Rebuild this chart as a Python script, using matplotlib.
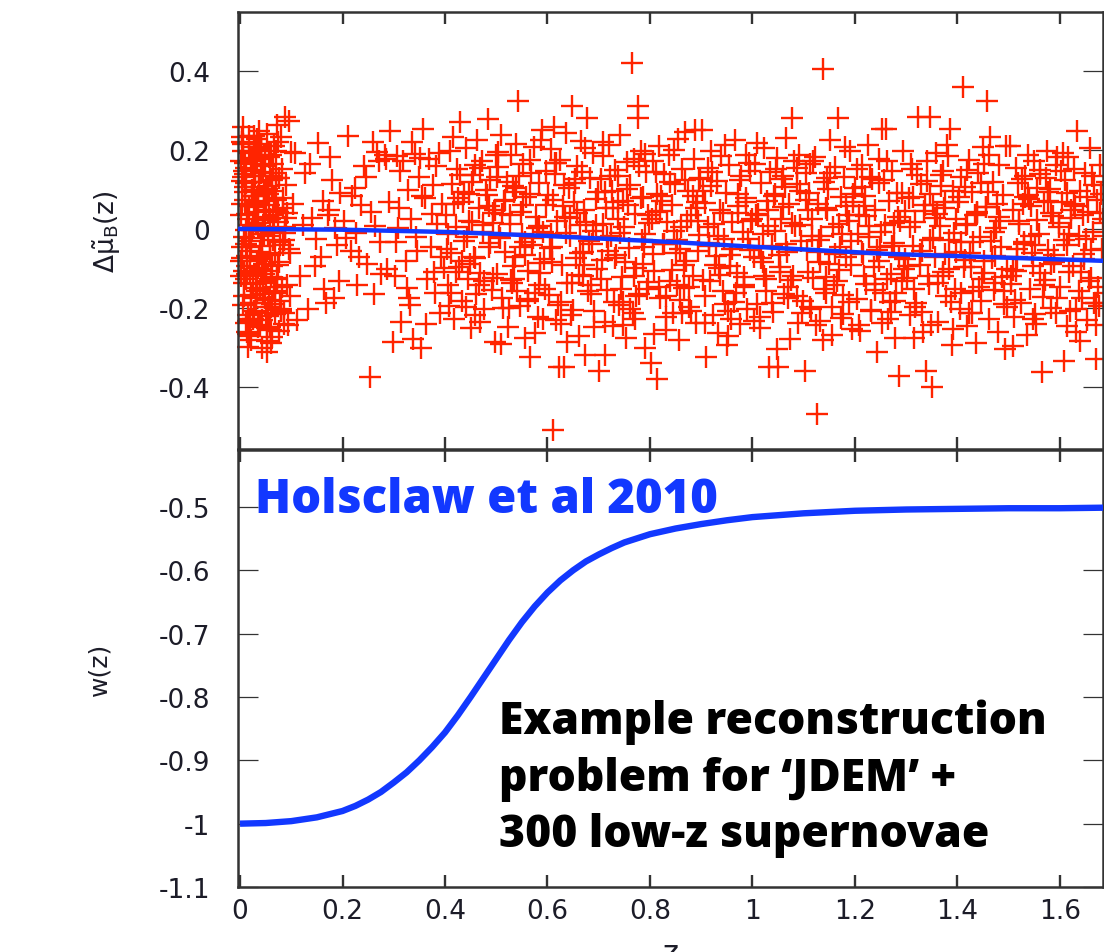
import matplotlib
matplotlib.use("Agg")
import matplotlib.pyplot as plt

# --- low-z sample (z < 0.1) ---
z_low = [0.012, 0.034, 0.005, 0.047, 0.021, 0.063, 0.018, 0.039, 0.071, 0.027,
         0.044, 0.009, 0.056, 0.015, 0.083, 0.030, 0.002, 0.066, 0.024, 0.051,
         0.038, 0.007, 0.059, 0.028, 0.075, 0.013, 0.046, 0.091, 0.020, 0.035,
         0.053, 0.017, 0.004, 0.068, 0.041, 0.026, 0.079, 0.010, 0.057, 0.032,
         0.014, 0.062, 0.036, 0.087, 0.003, 0.049, 0.022, 0.070, 0.042, 0.008,
         0.029, 0.055, 0.011, 0.076, 0.040, 0.019, 0.064, 0.033, 0.095, 0.048,
         0.006, 0.037, 0.072, 0.025, 0.058, 0.016, 0.045, 0.081, 0.001, 0.031,
         0.060, 0.023, 0.043, 0.010, 0.067, 0.035, 0.052, 0.085, 0.019, 0.074,
         0.039, 0.004, 0.027, 0.061, 0.050, 0.013, 0.078, 0.033, 0.089, 0.046,
         0.018, 0.069, 0.041, 0.007, 0.054, 0.030, 0.084, 0.015, 0.062, 0.036,
         0.049, 0.021, 0.073, 0.002, 0.058, 0.032, 0.011, 0.066, 0.043, 0.092,
         0.026, 0.051, 0.008, 0.037, 0.080, 0.017, 0.063, 0.044, 0.005, 0.071,
         0.034, 0.060, 0.014, 0.047, 0.024, 0.087, 0.039, 0.003, 0.055, 0.028,
         0.065, 0.009, 0.042, 0.077, 0.020, 0.053, 0.031, 0.012, 0.069, 0.046,
         0.023, 0.057, 0.006, 0.040, 0.082, 0.015, 0.048, 0.070, 0.035, 0.097,
         0.052, 0.029, 0.074, 0.011, 0.045, 0.061, 0.001, 0.037, 0.085, 0.019,
         0.041, 0.016, 0.068, 0.027, 0.054, 0.008, 0.078, 0.032, 0.059, 0.044,
         0.013, 0.036, 0.090, 0.050, 0.022, 0.066, 0.004, 0.043, 0.028, 0.075,
         0.058, 0.025, 0.047, 0.010, 0.071, 0.038, 0.063, 0.017, 0.083, 0.033,
         0.003, 0.050, 0.030, 0.086, 0.021, 0.064, 0.041, 0.076, 0.012, 0.055,
         0.087, 0.095, 0.052, 0.072, 0.099, 0.061, 0.079, 0.093, 0.006, 0.098]
dmu_low = [0.153, -0.082, 0.214, 0.031, -0.187, 0.096, -0.024, -0.243, 0.128, 0.057,
           -0.136, 0.072, 0.181, -0.265, -0.041, 0.207, -0.118, -0.009, 0.163, -0.212,
           0.118, -0.171, -0.063, 0.236, 0.044, -0.095, 0.089, -0.142, -0.228, 0.014,
           -0.284, 0.192, -0.047, -0.156, 0.141, 0.008, -0.203, 0.106, 0.061, -0.118,
           -0.069, 0.125, -0.249, -0.011, 0.221, -0.176, 0.179, 0.073, -0.102, -0.137,
           0.043, -0.221, 0.115, -0.085, 0.198, -0.031, 0.165, -0.158, -0.052, 0.022,
           -0.193, 0.247, -0.126, 0.084, -0.067, -0.298, 0.006, 0.151, 0.035, -0.174,
           0.188, -0.004, -0.231, 0.139, -0.148, 0.062, 0.101, -0.241, -0.112, 0.017,
           -0.058, 0.232, 0.095, -0.198, 0.049, -0.262, -0.033, 0.176, 0.112, -0.089,
           0.011, -0.161, 0.205, -0.106, -0.018, 0.134, 0.078, -0.218, -0.274, 0.067,
           0.158, -0.047, -0.124, 0.173, 0.026, -0.187, -0.238, 0.211, -0.076, 0.039,
           -0.139, 0.091, -0.021, 0.119, -0.207, 0.059, -0.094, -0.165, 0.196, 0.142,
           0.227, -0.256, 0.038, -0.113, 0.083, 0.004, -0.151, -0.073, -0.197, 0.107,
           -0.027, 0.166, -0.301, 0.129, -0.055, 0.241, 0.016, -0.128, -0.216, 0.071,
           0.098, -0.181, 0.131, -0.013, -0.146, -0.233, 0.187, 0.048, -0.099, -0.169,
           -0.252, 0.056, 0.219, -0.037, 0.144, -0.121, -0.081, 0.203, -0.028, -0.271,
           0.183, 0.024, -0.062, -0.209, 0.109, 0.147, -0.183, 0.068, -0.247, -0.006,
           -0.114, 0.208, 0.027, -0.133, -0.282, 0.079, 0.122, -0.044, 0.171, -0.091,
           0.135, -0.228, -0.014, 0.093, 0.196, -0.071, -0.191, 0.236, 0.054, -0.149,
           0.064, -0.107, 0.149, -0.213, -0.167, 0.034, 0.216, -0.259, -0.003, 0.088,
           0.284, 0.272, -0.312, 0.262, 0.195, -0.288, 0.232, -0.243, 0.259, -0.061]

# --- JDEM sample, 0.1 < z < 0.4 (sparse) ---
z_mid = [0.104, 0.118, 0.127, 0.133, 0.141, 0.152, 0.158, 0.164, 0.171, 0.176,
         0.183, 0.189, 0.195, 0.111, 0.122, 0.137, 0.146, 0.161, 0.168, 0.179,
         0.186, 0.193, 0.108, 0.149, 0.174,
         0.203, 0.211, 0.216, 0.224, 0.229, 0.236, 0.241, 0.248, 0.253, 0.259,
         0.264, 0.271, 0.276, 0.282, 0.287, 0.293, 0.298, 0.207, 0.219, 0.232,
         0.245, 0.255, 0.262, 0.274, 0.285, 0.291, 0.227, 0.267,
         0.302, 0.306, 0.311, 0.315, 0.319, 0.323, 0.327, 0.331, 0.334, 0.338,
         0.342, 0.346, 0.349, 0.353, 0.357, 0.361, 0.365, 0.369, 0.372, 0.376,
         0.380, 0.384, 0.388, 0.391, 0.395, 0.398, 0.304, 0.313, 0.325, 0.336,
         0.344, 0.355, 0.363, 0.374, 0.382, 0.393, 0.309, 0.329, 0.351, 0.378]
dmu_mid = [0.064, -0.118, 0.142, -0.203, 0.027, 0.218, -0.072, -0.151, 0.036, 0.183,
           -0.176, -0.041, 0.092, -0.231, 0.011, 0.165, -0.094, 0.071, -0.187, 0.124,
           0.003, -0.132, 0.193, -0.025, 0.047,
           0.021, 0.235, -0.056, 0.104, -0.142, 0.061, 0.158, -0.088, -0.375, 0.219,
           0.007, 0.172, -0.114, 0.187, -0.102, 0.248, -0.287, -0.023, 0.083, -0.071,
           0.132, 0.042, -0.165, -0.034, 0.176, 0.069, -0.011, 0.195,
           -0.118, 0.184, 0.052, -0.236, 0.171, -0.082, 0.098, -0.193, 0.024, -0.279,
           0.189, -0.055, 0.131, -0.301, 0.253, 0.078, -0.127, 0.176, -0.046, 0.112,
           -0.162, 0.012, 0.193, -0.214, 0.062, -0.098, -0.034, 0.147, -0.149, 0.221,
           -0.021, 0.084, -0.241, 0.038, 0.158, -0.071, 0.003, -0.176, 0.179, -0.109]

# --- JDEM sample, 0.4 < z < 1.0 ---
z_jdem_a = [0.402, 0.405, 0.409, 0.412, 0.414, 0.418, 0.421, 0.423, 0.427, 0.43,
            0.433, 0.436, 0.438, 0.441, 0.444, 0.447, 0.45, 0.452, 0.455, 0.458,
            0.461, 0.463, 0.466, 0.469, 0.472, 0.474, 0.477, 0.48, 0.483, 0.486,
            0.488, 0.491, 0.494, 0.497, 0.499, 0.407, 0.425, 0.443, 0.459, 0.476,
            0.493, 0.416, 0.449, 0.468, 0.485,
            0.501, 0.504, 0.507, 0.51, 0.512, 0.515, 0.518, 0.52, 0.523, 0.526,
            0.529, 0.531, 0.534, 0.537, 0.539, 0.542, 0.546, 0.548, 0.551, 0.553,
            0.556, 0.559, 0.562, 0.565, 0.567, 0.57, 0.573, 0.576, 0.578, 0.581,
            0.584, 0.586, 0.589, 0.592, 0.595, 0.598, 0.503, 0.514, 0.527, 0.535,
            0.544, 0.557, 0.566, 0.575, 0.583, 0.593, 0.509, 0.532, 0.561, 0.588,
            0.601, 0.603, 0.606, 0.609, 0.611, 0.614, 0.617, 0.619, 0.622, 0.625,
            0.628, 0.63, 0.633, 0.636, 0.638, 0.641, 0.644, 0.647, 0.65, 0.652,
            0.655, 0.658, 0.661, 0.663, 0.666, 0.669, 0.671, 0.674, 0.677, 0.68,
            0.683, 0.686, 0.688, 0.691, 0.694, 0.697, 0.607, 0.616, 0.626, 0.634,
            0.645, 0.654, 0.664, 0.673, 0.684, 0.695, 0.612, 0.639, 0.668, 0.689,
            0.701, 0.704, 0.706, 0.709, 0.712, 0.715, 0.717, 0.72, 0.723, 0.726,
            0.728, 0.731, 0.734, 0.737, 0.739, 0.742, 0.745, 0.748, 0.75, 0.753,
            0.756, 0.759, 0.761, 0.765, 0.767, 0.77, 0.773, 0.777, 0.779, 0.782,
            0.785, 0.787, 0.79, 0.793, 0.796, 0.798, 0.708, 0.719, 0.729, 0.738,
            0.747, 0.758, 0.768, 0.777, 0.786, 0.795, 0.713, 0.741, 0.771, 0.791,
            0.802, 0.805, 0.808, 0.811, 0.814, 0.817, 0.82, 0.822, 0.825, 0.828,
            0.831, 0.834, 0.837, 0.84, 0.843, 0.845, 0.848, 0.851, 0.854, 0.857,
            0.86, 0.863, 0.866, 0.868, 0.871, 0.874, 0.877, 0.88, 0.883, 0.886,
            0.889, 0.892, 0.895, 0.898, 0.807, 0.819, 0.832, 0.846, 0.858, 0.869,
            0.881, 0.894, 0.814, 0.853, 0.887,
            0.901, 0.904, 0.907, 0.91, 0.913, 0.916, 0.919, 0.922, 0.924, 0.927,
            0.93, 0.933, 0.936, 0.939, 0.942, 0.945, 0.948, 0.951, 0.954, 0.957,
            0.96, 0.963, 0.966, 0.969, 0.972, 0.975, 0.978, 0.981, 0.984, 0.987,
            0.99, 0.993, 0.996, 0.999, 0.908, 0.92, 0.934, 0.947, 0.959, 0.971,
            0.983, 0.995, 0.915, 0.952, 0.988]
dmu_jdem_a = [0.035, -0.142, 0.198, -0.061, 0.113, -0.227, 0.004, 0.152, -0.096, 0.271,
              -0.183, 0.067, -0.031, 0.204, -0.128, 0.089, -0.251, 0.018, 0.137, -0.073,
              -0.165, 0.226, 0.052, -0.112, 0.171, -0.008, -0.203, 0.098, 0.279, -0.047,
              0.123, -0.155, 0.041, -0.286, 0.186, -0.194, 0.079, -0.021, 0.161, -0.132,
              0.015, 0.232, -0.089, -0.236, 0.058,
              -0.113, 0.157, -0.024, 0.238, -0.176, 0.071, -0.058, 0.119, -0.247, 0.012,
              0.187, -0.138, 0.094, -0.071, 0.215, 0.324, -0.195, 0.043, -0.012, 0.163,
              -0.275, 0.081, -0.106, -0.325, 0.142, -0.041, 0.207, -0.162, 0.029, -0.223,
              0.115, -0.087, 0.251, -0.009, -0.152, 0.061, 0.195, -0.201, 0.036, -0.126,
              0.133, -0.034, 0.174, -0.264, 0.007, -0.077, -0.291, 0.108, -0.182, 0.226,
              0.086, -0.168, 0.201, -0.045, -0.51, 0.139, -0.231, 0.021, -0.35, 0.174,
              -0.092, 0.058, -0.35, 0.243, -0.136, 0.104, -0.017, 0.31, -0.204, 0.067,
              -0.073, 0.159, -0.271, 0.011, 0.222, -0.118, 0.047, -0.32, 0.28, -0.157,
              0.128, -0.038, 0.192, -0.249, 0.076, -0.101, -0.013, 0.166, -0.184, 0.031,
              -0.219, 0.117, -0.062, 0.205, -0.143, 0.009, 0.258, -0.287, 0.143, -0.005,
              -0.36, 0.127, -0.078, 0.184, -0.32, 0.052, -0.154, 0.213, -0.019, 0.097,
              -0.246, 0.148, -0.065, 0.026, -0.192, 0.237, -0.121, 0.071, 0.004, -0.277,
              0.169, -0.048, 0.112, 0.42, -0.213, 0.038, -0.099, 0.31, -0.166, 0.198,
              -0.027, 0.082, -0.301, 0.145, -0.134, 0.015, 0.221, -0.056, -0.185, 0.133,
              -0.243, 0.061, 0.176, 0.28, -0.088, -0.152, 0.093, -0.011, -0.228, 0.189,
              -0.34, 0.171, -0.107, 0.042, -0.38, 0.209, -0.176, 0.083, -0.038, 0.139,
              -0.255, 0.017, 0.186, -0.131, 0.061, -0.214, 0.113, -0.062, 0.227, -0.282,
              0.005, 0.152, -0.149, 0.245, -0.081, 0.097, -0.198, 0.034, -0.118, 0.178,
              -0.237, 0.069, -0.015, 0.129, -0.266, 0.046, -0.169, 0.199, -0.052, 0.124,
              -0.207, 0.021, 0.088, -0.142, 0.25,
              0.25, -0.129, 0.066, -0.325, 0.153, -0.044, 0.198, -0.217, 0.012, -0.091,
              0.121, -0.263, 0.047, 0.184, -0.158, -0.026, 0.092, -0.294, 0.161, -0.067,
              0.018, -0.186, 0.224, -0.112, 0.059, -0.241, 0.135, -0.008, -0.146, 0.079,
              -0.203, 0.167, -0.053, 0.026, -0.171, 0.108, -0.098, 0.213, -0.229, 0.041,
              -0.121, 0.146, -0.035, -0.272, 0.186]

# --- JDEM sample, 1.0 < z < 1.7 ---
z_jdem_b = [1.002, 1.005, 1.008, 1.011, 1.014, 1.017, 1.02, 1.023, 1.026, 1.029,
            1.032, 1.035, 1.038, 1.041, 1.044, 1.047, 1.05, 1.053, 1.056, 1.059,
            1.062, 1.065, 1.068, 1.071, 1.074, 1.077, 1.08, 1.083, 1.086, 1.089,
            1.092, 1.095, 1.098, 1.009, 1.021, 1.03, 1.048, 1.057, 1.069, 1.078,
            1.091, 1.015, 1.043, 1.063, 1.087,
            1.102, 1.105, 1.107, 1.11, 1.113, 1.116, 1.119, 1.122, 1.125, 1.128,
            1.131, 1.134, 1.137, 1.14, 1.143, 1.146, 1.149, 1.152, 1.155, 1.158,
            1.161, 1.164, 1.167, 1.17, 1.173, 1.176, 1.179, 1.182, 1.185, 1.188,
            1.191, 1.194, 1.197, 1.108, 1.118, 1.129, 1.138, 1.148, 1.159, 1.169,
            1.181, 1.192, 1.114, 1.144, 1.175,
            1.201, 1.204, 1.207, 1.21, 1.213, 1.216, 1.219, 1.222, 1.225, 1.228,
            1.231, 1.234, 1.237, 1.24, 1.243, 1.246, 1.249, 1.252, 1.255, 1.258,
            1.261, 1.264, 1.267, 1.27, 1.273, 1.276, 1.279, 1.282, 1.285, 1.288,
            1.291, 1.294, 1.297, 1.208, 1.218, 1.229, 1.239, 1.25, 1.262, 1.271,
            1.284, 1.295, 1.214, 1.247, 1.278,
            1.302, 1.305, 1.308, 1.311, 1.314, 1.317, 1.32, 1.323, 1.326, 1.329,
            1.332, 1.335, 1.338, 1.341, 1.344, 1.347, 1.35, 1.353, 1.356, 1.359,
            1.362, 1.365, 1.368, 1.371, 1.374, 1.377, 1.38, 1.383, 1.386, 1.389,
            1.392, 1.395, 1.398, 1.309, 1.318, 1.33, 1.34, 1.349, 1.361, 1.372,
            1.381, 1.394, 1.315, 1.346, 1.376,
            1.401, 1.404, 1.407, 1.41, 1.413, 1.416, 1.419, 1.422, 1.425, 1.428,
            1.431, 1.434, 1.437, 1.44, 1.443, 1.446, 1.449, 1.452, 1.455, 1.458,
            1.461, 1.464, 1.467, 1.47, 1.473, 1.476, 1.479, 1.482, 1.485, 1.488,
            1.491, 1.494, 1.497, 1.406, 1.418, 1.429, 1.439, 1.451, 1.462, 1.471,
            1.483, 1.493, 1.414, 1.447, 1.478,
            1.502, 1.505, 1.508, 1.511, 1.514, 1.517, 1.52, 1.523, 1.526, 1.529,
            1.532, 1.535, 1.538, 1.541, 1.544, 1.547, 1.55, 1.553, 1.556, 1.559,
            1.562, 1.565, 1.568, 1.571, 1.574, 1.577, 1.58, 1.583, 1.586, 1.589,
            1.592, 1.595, 1.598, 1.509, 1.518, 1.53, 1.539, 1.551, 1.561, 1.569,
            1.582, 1.594, 1.515, 1.546, 1.576,
            1.601, 1.604, 1.607, 1.61, 1.613, 1.616, 1.619, 1.622, 1.625, 1.628,
            1.631, 1.634, 1.637, 1.64, 1.643, 1.646, 1.649, 1.652, 1.655, 1.658,
            1.661, 1.664, 1.667, 1.67, 1.673, 1.676, 1.679, 1.682, 1.685, 1.688,
            1.606, 1.617, 1.629, 1.639, 1.651, 1.662, 1.671, 1.681, 1.614, 1.645]
dmu_jdem_b = [-0.072, 0.163, -0.189, 0.038, -0.251, 0.117, -0.014, 0.206, -0.126, 0.071,
              -0.35, 0.143, -0.043, -0.211, 0.088, 0.179, -0.35, -0.097, 0.024, 0.135,
              -0.166, 0.231, -0.058, 0.062, -0.278, 0.28, -0.119, 0.007, 0.154, -0.237,
              0.096, -0.031, -0.183, 0.217, -0.084, 0.049, -0.304, 0.126, -0.147, 0.015,
              0.188, -0.222, -0.006, 0.107, -0.171,
              -0.36, 0.141, -0.053, 0.092, -0.197, 0.026, -0.124, 0.183, -0.468, 0.064,
              -0.232, -0.018, 0.405, 0.118, -0.161, 0.047, -0.089, 0.224, -0.269, 0.005,
              0.157, -0.132, 0.28, -0.046, 0.081, -0.215, 0.131, -0.071, 0.034, -0.184,
              0.198, -0.254, 0.069, -0.109, 0.172, -0.029, -0.281, 0.101, -0.143, 0.013,
              0.208, -0.092, -0.202, 0.054, -0.012,
              0.103, -0.177, 0.036, -0.258, 0.162, -0.064, 0.084, -0.139, 0.213, -0.021,
              -0.205, 0.127, -0.096, 0.049, -0.312, 0.178, -0.047, 0.253, -0.161, 0.011,
              0.253, -0.228, 0.071, -0.114, 0.146, -0.036, -0.183, 0.092, -0.372, 0.019,
              -0.131, 0.197, -0.075, -0.243, 0.057, 0.132, -0.154, -0.008, 0.173, -0.211,
              0.029, -0.101, -0.058, 0.115, -0.276,
              -0.124, 0.079, -0.217, 0.151, -0.043, 0.018, -0.188, 0.283, -0.091, 0.114,
              -0.26, 0.046, -0.36, 0.172, -0.139, 0.283, -0.4, 0.061, -0.072, 0.193,
              -0.235, 0.008, 0.137, -0.109, 0.052, -0.171, 0.213, -0.028, 0.253, -0.293,
              0.097, -0.151, 0.024, 0.163, -0.198, -0.056, 0.121, -0.243, 0.038, -0.118,
              0.184, -0.011, -0.276, 0.089, -0.064,
              0.068, -0.203, 0.132, 0.36, -0.097, 0.011, -0.246, 0.174, -0.061, 0.093,
              -0.158, 0.034, -0.289, 0.142, -0.021, -0.183, 0.207, -0.112, 0.056, 0.324,
              -0.227, 0.233, -0.074, 0.119, -0.136, 0.003, -0.261, 0.161, -0.045, 0.086,
              -0.191, 0.21, -0.101, -0.034, 0.149, -0.214, 0.042, -0.082, 0.188, -0.155,
              0.019, -0.304, 0.106, -0.128, 0.064,
              0.21, -0.118, 0.047, -0.223, 0.154, -0.071, 0.013, -0.187, 0.126, -0.039,
              0.081, -0.268, 0.186, -0.152, 0.058, -0.095, 0.173, -0.241, 0.022, -0.013,
              0.139, -0.362, 0.067, -0.129, 0.197, -0.054, 0.101, -0.201, 0.032, -0.084,
              0.162, -0.174, 0.005, -0.296, 0.117, -0.033, 0.075, -0.215, 0.149, -0.141,
              0.041, 0.181, -0.106, -0.061, 0.094,
              -0.148, 0.067, -0.334, 0.123, -0.041, 0.183, -0.207, 0.028, -0.093, 0.152,
              -0.262, 0.248, -0.017, 0.096, -0.176, -0.064, 0.141, -0.231, 0.043, 0.205,
              -0.124, -0.009, 0.112, -0.33, 0.074, -0.196, 0.161, -0.052, 0.014, -0.161,
              0.191, -0.109, 0.057, -0.283, -0.026, 0.134, -0.187, 0.088, -0.245, 0.034]

# --- JDEM sample, core of the band, 0.4 < z < 1.7 ---
z_jdem_c = [0.403, 0.437, 0.411, 0.446, 0.421, 0.429, 0.406, 0.441, 0.417, 0.433,
            0.452, 0.488, 0.466, 0.497, 0.459, 0.474, 0.481, 0.456, 0.493, 0.469,
            0.506, 0.541, 0.518, 0.533, 0.502, 0.547, 0.524, 0.511, 0.538, 0.529,
            0.553, 0.586, 0.571, 0.597, 0.562, 0.579, 0.557, 0.592, 0.566, 0.583,
            0.608, 0.643, 0.621, 0.632, 0.604, 0.648, 0.615, 0.637, 0.626, 0.611,
            0.657, 0.684, 0.669, 0.698, 0.662, 0.676, 0.691, 0.653, 0.681, 0.672,
            0.704, 0.738, 0.716, 0.747, 0.722, 0.731, 0.709, 0.743, 0.727, 0.713,
            0.755, 0.788, 0.769, 0.796, 0.761, 0.778, 0.752, 0.791, 0.773, 0.783,
            0.806, 0.839, 0.817, 0.846, 0.824, 0.831, 0.803, 0.843, 0.812, 0.828,
            0.858, 0.889, 0.867, 0.896, 0.853, 0.877, 0.884, 0.862, 0.893, 0.872,
            0.904, 0.937, 0.913, 0.946, 0.921, 0.929, 0.908, 0.942, 0.918, 0.933,
            0.956, 0.987, 0.968, 0.998, 0.961, 0.975, 0.952, 0.991, 0.972, 0.983,
            1.007, 1.038, 1.016, 1.046, 1.023, 1.031, 1.003, 1.042, 1.012, 1.027,
            1.054, 1.087, 1.066, 1.096, 1.059, 1.075, 1.081, 1.052, 1.092, 1.069,
            1.104, 1.139, 1.117, 1.146, 1.123, 1.131, 1.108, 1.143, 1.112, 1.127,
            1.156, 1.188, 1.169, 1.197, 1.161, 1.177, 1.152, 1.192, 1.173, 1.183,
            1.206, 1.239, 1.214, 1.247, 1.221, 1.232, 1.203, 1.243, 1.218, 1.228,
            1.257, 1.286, 1.268, 1.297, 1.262, 1.276, 1.252, 1.291, 1.273, 1.281,
            1.304, 1.337, 1.316, 1.346, 1.322, 1.331, 1.308, 1.342, 1.313, 1.327,
            1.356, 1.388, 1.367, 1.397, 1.362, 1.376, 1.353, 1.392, 1.371, 1.383,
            1.407, 1.438, 1.414, 1.446, 1.422, 1.431, 1.403, 1.442, 1.418, 1.427,
            1.456, 1.487, 1.466, 1.496, 1.459, 1.474, 1.452, 1.491, 1.471, 1.482,
            1.504, 1.538, 1.516, 1.547, 1.521, 1.532, 1.508, 1.543, 1.513, 1.527,
            1.556, 1.589, 1.567, 1.598, 1.561, 1.576, 1.552, 1.592, 1.572, 1.583,
            1.607, 1.638, 1.614, 1.646, 1.622, 1.631, 1.603, 1.642, 1.618, 1.627,
            1.656, 1.684, 1.667, 1.691, 1.661, 1.675, 1.652, 1.688, 1.671, 1.679]
dmu_jdem_c = [-0.052, 0.094, -0.163, 0.021, -0.108, 0.137, -0.014, -0.197, 0.063, -0.081,
              0.118, -0.036, -0.142, 0.047, -0.219, 0.009, 0.086, -0.071, -0.124, 0.155,
              -0.017, -0.158, 0.072, -0.093, 0.131, -0.046, -0.201, 0.038, 0.104, -0.129,
              0.061, -0.112, -0.024, 0.146, -0.178, 0.003, -0.067, -0.229, 0.089, -0.141,
              -0.084, 0.028, -0.193, 0.112, -0.049, -0.137, 0.167, -0.011, -0.241, 0.074,
              0.041, -0.164, -0.058, 0.093, -0.116, 0.018, -0.207, 0.126, -0.031, -0.092,
              -0.128, 0.067, -0.021, -0.186, 0.134, -0.074, 0.012, -0.153, 0.053, -0.236,
              0.101, -0.047, -0.119, 0.034, -0.203, 0.159, -0.084, -0.012, -0.171, 0.077,
              -0.063, 0.118, -0.147, -0.005, 0.071, -0.224, 0.026, -0.103, 0.143, -0.039,
              -0.181, 0.052, -0.091, 0.127, -0.028, -0.146, 0.084, -0.213, -0.056, 0.019,
              0.097, -0.117, 0.006, -0.189, 0.145, -0.069, -0.238, 0.041, -0.132, -0.017,
              -0.094, 0.068, -0.163, 0.019, -0.051, 0.124, -0.208, -0.026, 0.089, -0.141,
              0.036, -0.188, -0.073, 0.151, -0.119, 0.007, -0.232, 0.083, -0.046, -0.157,
              -0.108, 0.113, -0.037, -0.214, 0.056, -0.129, 0.172, -0.066, 0.011, -0.176,
              0.072, -0.152, -0.018, 0.129, -0.244, -0.085, 0.047, -0.121, 0.164, -0.058,
              -0.197, 0.021, -0.104, 0.088, -0.063, -0.168, 0.141, -0.031, -0.226, 0.059,
              -0.014, -0.139, 0.106, -0.082, 0.033, -0.207, 0.152, -0.053, -0.118, 0.008,
              0.124, -0.071, -0.186, 0.046, -0.127, 0.015, -0.239, 0.091, -0.044, -0.163,
              -0.093, 0.061, -0.152, -0.027, 0.137, -0.211, 0.004, -0.118, 0.082, -0.064,
              0.027, -0.184, 0.109, -0.059, -0.136, 0.068, -0.022, -0.253, 0.146, -0.101,
              -0.163, 0.039, -0.078, 0.117, -0.212, -0.034, 0.081, -0.146, 0.013, -0.097,
              0.056, -0.121, -0.031, -0.197, 0.094, -0.069, 0.163, -0.156, -0.008, 0.031,
              -0.139, 0.086, -0.052, -0.228, 0.021, 0.134, -0.104, -0.017, -0.181, 0.062,
              0.103, -0.066, -0.173, 0.016, -0.112, 0.071, -0.041, -0.214, 0.128, -0.088,
              -0.027, -0.158, 0.092, -0.076, 0.049, -0.202, 0.147, -0.109, -0.013, 0.063,
              -0.131, 0.024, -0.187, 0.118, -0.054, -0.146, 0.081, -0.019, -0.242, 0.039]

# reconstructed mean offset (top) and w(z) (bottom)
z_fit = [0.0, 0.2, 0.41, 0.6, 0.84, 1.0, 1.26, 1.5, 1.69]
dmu_fit = [0.0, -0.002, -0.008, -0.018, -0.033, -0.045, -0.063, -0.073, -0.081]

z_w = [0.0, 0.05, 0.1, 0.15, 0.2, 0.225, 0.25, 0.275, 0.3, 0.325, 0.35, 0.375,
       0.4, 0.425, 0.45, 0.475, 0.5, 0.525, 0.55, 0.575, 0.6, 0.625, 0.65, 0.675,
       0.7, 0.725, 0.75, 0.8, 0.85, 0.9, 0.95, 1.0, 1.1, 1.2, 1.3, 1.4, 1.5, 1.6, 1.7]
w_z = [-1.0, -0.999, -0.996, -0.99, -0.98, -0.972, -0.962, -0.95, -0.935, -0.919,
       -0.9, -0.879, -0.856, -0.829, -0.80, -0.77, -0.74, -0.71, -0.682, -0.657,
       -0.635, -0.616, -0.6, -0.586, -0.575, -0.565, -0.556, -0.543, -0.534, -0.527,
       -0.521, -0.516, -0.51, -0.506, -0.504, -0.503, -0.502, -0.502, -0.501]

x_ticks = [0, 0.2, 0.4, 0.6, 0.8, 1.0, 1.2, 1.4, 1.6]
x_labels = ['0', '0.2', '0.4', '0.6', '0.8', '1', '1.2', '1.4', '1.6']
top_ticks = [-0.4, -0.2, 0.0, 0.2, 0.4]
top_labels = ['-0.4', '-0.2', '0', '0.2', '0.4']
bot_ticks = [-1.1, -1.0, -0.9, -0.8, -0.7, -0.6, -0.5]
bot_labels = ['-1.1', '-1', '-0.9', '-0.8', '-0.7', '-0.6', '-0.5']

for name, a, b in [('low', z_low, dmu_low), ('mid', z_mid, dmu_mid),
                   ('a', z_jdem_a, dmu_jdem_a), ('b', z_jdem_b, dmu_jdem_b),
                   ('c', z_jdem_c, dmu_jdem_c)]:
    assert len(a) == len(b), (name, len(a), len(b))

z_all = z_low + z_mid + z_jdem_a + z_jdem_b + z_jdem_c
dmu_all = dmu_low + dmu_mid + dmu_jdem_a + dmu_jdem_b + dmu_jdem_c

plt.rcParams['font.family'] = 'DejaVu Sans'
plt.rcParams['mathtext.fontset'] = 'dejavusans'
plt.rcParams['axes.unicode_minus'] = False

RED = '#ff2400'
BLUE = '#1238ff'
INK = '#1c1c28'
SPINE = '#333333'

fig = plt.figure(figsize=(11.04, 9.53), dpi=100)
ax1 = fig.add_axes([0.2156, 0.5278, 0.7835, 0.4586])
ax2 = fig.add_axes([0.2156, 0.0682, 0.7835, 0.4586])

ax1.plot(z_all, dmu_all, '+', color=RED, ms=16, mew=1.7, clip_on=False, zorder=2)
ax1.plot(z_fit, dmu_fit, '-', color=BLUE, lw=3.2, zorder=3)
ax1.set_ylim(-0.557, 0.549)
ax1.set_yticks(top_ticks)
ax1.set_yticklabels(top_labels)
ax1.set_ylabel(r'$\Delta\tilde{\mathrm{\mu}}_{\mathrm{B}}(\mathrm{z})$', fontsize=19,
               color=INK, labelpad=26)

ax2.plot(z_w, w_z, '-', color=BLUE, lw=4.6, solid_capstyle='butt', zorder=3)
ax2.set_ylim(-1.0994, -0.41)
ax2.set_yticks(bot_ticks)
ax2.set_yticklabels(bot_labels)
ax2.set_ylabel('w(z)', fontsize=18, color=INK, labelpad=34)
ax2.set_xlabel('z', fontsize=22, color=INK, labelpad=10)

for ax in (ax1, ax2):
    ax.set_xlim(-0.0039, 1.684)
    ax.set_xticks(x_ticks)
    ax.tick_params(axis='x', direction='in', length=8.5, width=1.7, top=True,
                   bottom=True, color=SPINE, labelsize=19, labelcolor=INK, pad=8)
    ax.tick_params(axis='y', direction='in', length=14.5, width=0.9, left=True,
                   right=True, color=SPINE, labelsize=19, labelcolor=INK, pad=20)
    for sp in ax.spines.values():
        sp.set_color(SPINE)
        sp.set_linewidth(1.8)
ax1.set_xticklabels([])
ax2.set_xticklabels(x_labels)

ax2.text(0.03, -0.508, 'Holsclaw et al 2010', color=BLUE, fontsize=34,
         fontfamily='Open Sans', fontweight='heavy', va='baseline', ha='left')
ax2.text(0.505, -0.857, 'Example reconstruction', color='black', fontsize=32,
         fontfamily='Open Sans', fontweight='heavy', va='baseline', ha='left')
ax2.text(0.505, -0.947, 'problem for \u2018JDEM\u2019 +', color='black', fontsize=32,
         fontfamily='Open Sans', fontweight='heavy', va='baseline', ha='left')
ax2.text(0.505, -1.035, '300 low-z supernovae', color='black', fontsize=32,
         fontfamily='Open Sans', fontweight='heavy', va='baseline', ha='left')

fig.savefig('out.png', dpi=100)
